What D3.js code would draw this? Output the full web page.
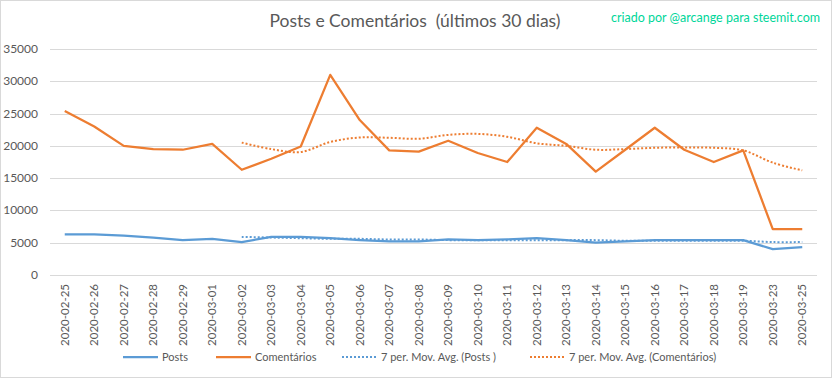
<!DOCTYPE html>
<html>
<head>
<meta charset="utf-8">
<script src="https://cdn.jsdelivr.net/npm/d3@7"></script>
<style>
  body { margin: 0; background: #fff; }
  svg { display: block; font-family: Lato, "Liberation Sans", sans-serif; }
</style>
</head>
<body>
<script>
var width = 832;
var height = 378;
var padding = { top: 49, right: 15, bottom: 103, left: 50 };

var dates = ["2020-02-25","2020-02-26","2020-02-27","2020-02-28","2020-02-29","2020-03-01","2020-03-02",
  "2020-03-03","2020-03-04","2020-03-05","2020-03-06","2020-03-07","2020-03-08","2020-03-09","2020-03-10",
  "2020-03-11","2020-03-12","2020-03-13","2020-03-14","2020-03-15","2020-03-16","2020-03-17","2020-03-18",
  "2020-03-19","2020-03-23","2020-03-25"];
var posts = [6300,6300,6100,5800,5400,5600,5100,5900,5900,5700,5400,5200,5200,5500,5400,5500,5700,5400,5000,5200,5400,5400,5400,5400,4000,4300];
var comentarios = [25400,23000,20000,19500,19400,20300,16300,18000,19900,31000,24000,19300,19100,20800,18900,17500,22800,20300,16000,19400,22800,19400,17500,19300,7100,7100];
// médias móveis (começam no 7º dia)
var postsAvg = [null,null,null,null,null,null,5900,5800,5700,5600,5600,5500,5500,5400,5400,5400,5400,5400,5400,5300,5300,5300,5300,5300,5100,5100];
var comentariosAvg = [null,null,null,null,null,null,20500,19500,19050,20600,21300,21250,21100,21700,21850,21400,20400,20000,19400,19500,19700,19750,19700,19300,17400,16200];
var yTicks = [0,5000,10000,15000,20000,25000,30000,35000];

var colors = { posts: "#5B9BD5", com: "#ED7D31" };

var svg = d3.select("body").append("svg")
    .attr("width", width)
    .attr("height", height);

svg.append("rect")
    .attr("x", 0.5).attr("y", 0.5)
    .attr("width", width - 1).attr("height", height - 1)
    .attr("fill", "#fff")
    .attr("stroke", "#D9D9D9");

var xScale = d3.scaleBand()
    .domain(dates)
    .range([padding.left, width - padding.right]);
var yScale = d3.scaleLinear()
    .domain([0, 35000])
    .range([height - padding.bottom, padding.top]);

function cx(i) { return xScale(dates[i]) + xScale.bandwidth() / 2; }

// grid
svg.append("g")
    .selectAll("line")
    .data(yTicks)
    .enter()
    .append("line")
    .attr("x1", padding.left)
    .attr("x2", width - padding.right)
    .attr("y1", function(d) { return Math.round(yScale(d)) + 0.5; })
    .attr("y2", function(d) { return Math.round(yScale(d)) + 0.5; })
    .attr("stroke", "#D9D9D9")
    .attr("stroke-width", 1);

// y labels
svg.append("g")
    .selectAll("text")
    .data(yTicks)
    .enter()
    .append("text")
    .attr("x", 38)
    .attr("y", function(d) { return yScale(d) + 4; })
    .attr("text-anchor", "end")
    .attr("font-size", 12)
    .attr("fill", "#595959")
    .text(function(d) { return d; });

// x labels
svg.append("g")
    .selectAll("text")
    .data(dates)
    .enter()
    .append("text")
    .attr("transform", function(d, i) {
      return "translate(" + (cx(i) + 4) + "," + 284 + ") rotate(-90)";
    })
    .attr("text-anchor", "end")
    .attr("font-size", 11.5)
    .attr("fill", "#595959")
    .text(function(d) { return d; });

var line = d3.line()
    .x(function(d) { return cx(d.i); })
    .y(function(d) { return yScale(d.v); });
var smooth = d3.line()
    .defined(function(d) { return d.v != null; })
    .x(function(d) { return cx(d.i); })
    .y(function(d) { return yScale(d.v); })
    .curve(d3.curveCatmullRom.alpha(0.5));

function pts(arr) { return arr.map(function(v, i) { return { i: i, v: v }; }); }

var series = [
  { data: postsAvg, color: colors.posts, dotted: true },
  { data: comentariosAvg, color: colors.com, dotted: true },
  { data: posts, color: colors.posts, dotted: false },
  { data: comentarios, color: colors.com, dotted: false }
];

svg.append("g")
    .selectAll("path")
    .data(series)
    .enter()
    .append("path")
    .attr("d", function(d) { return d.dotted ? smooth(pts(d.data)) : line(pts(d.data)); })
    .attr("fill", "none")
    .attr("stroke", function(d) { return d.color; })
    .attr("stroke-width", function(d) { return d.dotted ? 2 : 2.25; })
    .attr("stroke-dasharray", function(d) { return d.dotted ? "2,2" : null; })
    .attr("stroke-linejoin", "round");

// title
svg.append("text")
    .attr("x", 415)
    .attr("y", 27)
    .attr("text-anchor", "middle")
    .attr("font-size", 17.5)
    .attr("fill", "#595959")
    .style("white-space", "pre")
    .text("Posts e Comentários  (últimos 30 dias)");

svg.append("text")
    .attr("x", 820)
    .attr("y", 22)
    .attr("text-anchor", "end")
    .attr("font-size", 12.5)
    .attr("fill", "#00D69A")
    .text("criado por @arcange para steemit.com");

// legend
var legend = [
  { name: "Posts", color: colors.posts, dotted: false, x: 123 },
  { name: "Comentários", color: colors.com, dotted: false, x: 216 },
  { name: "7 per. Mov. Avg. (Posts )", color: colors.posts, dotted: true, x: 342 },
  { name: "7 per. Mov. Avg. (Comentários)", color: colors.com, dotted: true, x: 530 }
];
var lg = svg.selectAll(".legend")
    .data(legend)
    .enter()
    .append("g")
    .attr("class", "legend")
    .attr("transform", function(d) { return "translate(" + d.x + ",357)"; });
lg.append("line")
    .attr("x1", 0).attr("x2", 35)
    .attr("stroke", function(d) { return d.color; })
    .attr("stroke-width", function(d) { return d.dotted ? 2 : 2.25; })
    .attr("stroke-dasharray", function(d) { return d.dotted ? "2,2" : null; });
lg.append("text")
    .attr("x", 39)
    .attr("y", 4)
    .attr("font-size", 11)
    .attr("fill", "#595959")
    .text(function(d) { return d.name; });
</script>
</body>
</html>
